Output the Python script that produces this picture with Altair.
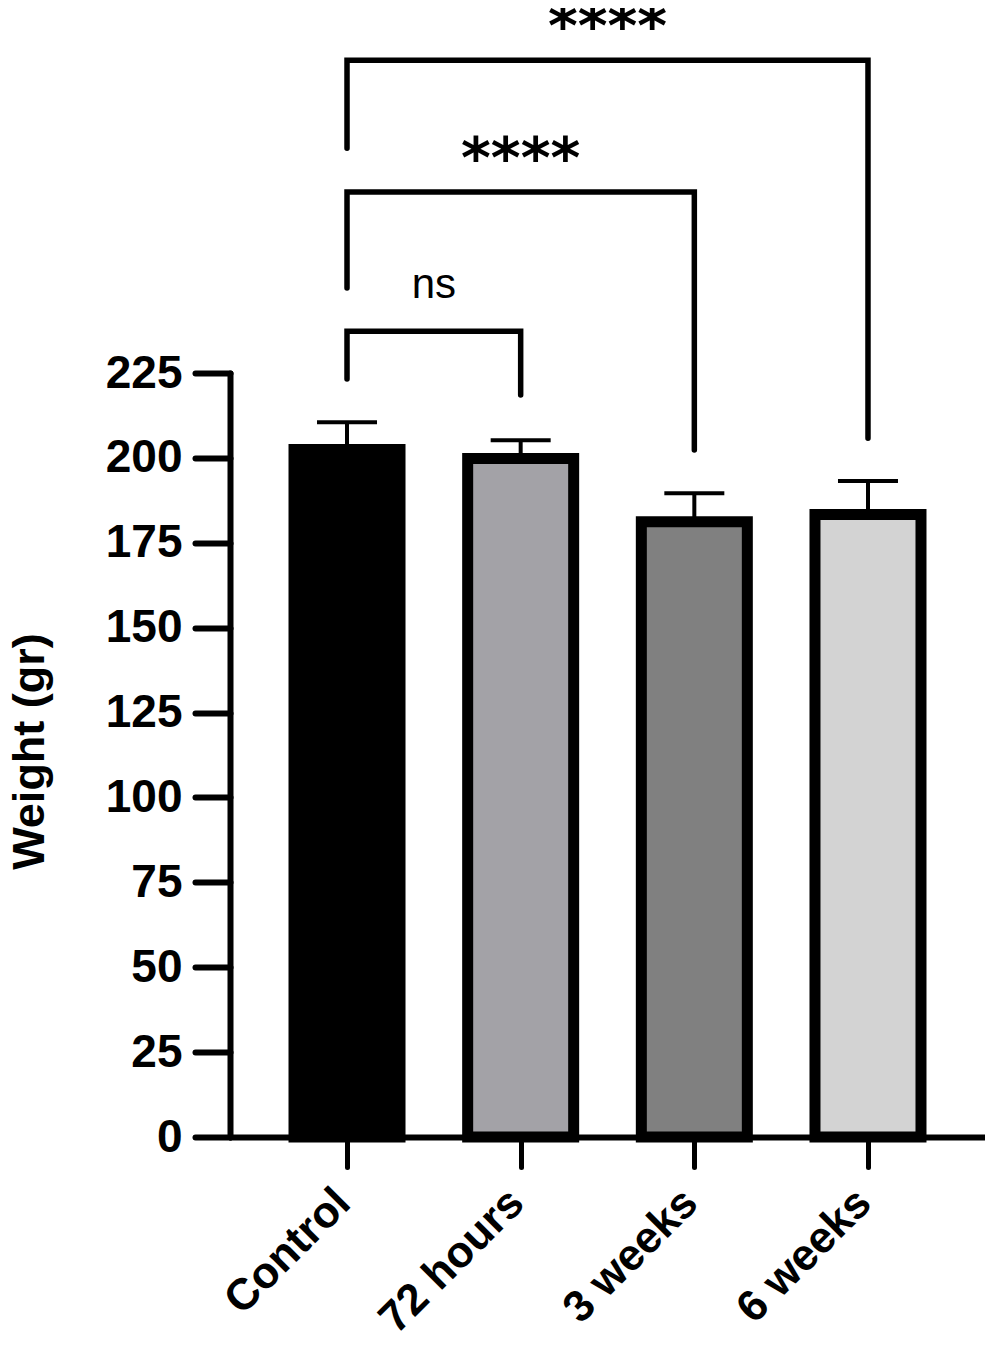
import json
import altair as alt
import pandas as pd

# ---- data ----
categories = ["Control", "72 hours", "3 weeks", "6 weeks"]
positions = [0, 1, 2, 3]
means = [202.5, 199.8, 181.2, 183.3]
uppers = [210.5, 205.2, 189.6, 193.2]

# significance brackets (indices into categories, values in y units)
br_left = [0, 0, 0]
br_right = [1, 2, 3]
br_top = [237.3, 278.3, 317.1]
br_left_end = [223.2, 250.0, 291.2]
br_right_end = [218.5, 202.3, 205.8]
br_label = ["ns", "****", "****"]
br_label_y = [250.9, 290.6, 329.5]

y_ticks = [0, 25, 50, 75, 100, 125, 150, 175, 200, 225]

# ---- styles ----
fills = ["#000000", "#a3a2a7", "#808080", "#d3d3d3"]
FONT = "Liberation Sans"

bars_df = pd.DataFrame({"idx": positions, "cat": categories, "mean": means, "upper": uppers})

rows = []
for i in range(len(br_left)):
    pts = [(br_left[i], br_left_end[i]), (br_left[i], br_top[i]),
           (br_right[i], br_top[i]), (br_right[i], br_right_end[i])]
    for k, (bx, by) in enumerate(pts):
        rows.append({"bid": i, "ord": k, "bx": bx, "by": by})
br_df = pd.DataFrame(rows)

lab_df = pd.DataFrame({
    "tx": [(l + r) / 2 for l, r in zip(br_left, br_right)],
    "ty": br_label_y,
    "label": br_label,
})

label_expr = json.dumps(categories) + "[datum.value]"

xscale = alt.Scale(domain=[-0.645, 3.645], nice=False, zero=False)
yscale = alt.Scale(domain=[0, 225], nice=False, zero=True)

x_axis = alt.Axis(
    values=positions, labelExpr=label_expr, title=None,
    labelAngle=-45, labelAlign="right", labelBaseline="middle",
    labelPadding=29, labelOffset=-4, labelFontSize=44, labelFont=FONT,
    labelFontWeight="bold", labelColor="black", labelFlush=False,
    labelOverlap=False, labelLimit=0,
    tickSize=30, tickWidth=5, tickColor="black", tickCap="round",
    domainWidth=6, domainColor="black", domainCap="round", grid=False,
)
y_axis = alt.Axis(
    values=y_ticks, title="Weight (gr)",
    labelFontSize=46, labelFont=FONT, labelFontWeight="bold", labelColor="black",
    labelPadding=13, labelFlush=False, labelOverlap=False,
    tickSize=35, tickWidth=6, tickColor="black", tickCap="round",
    domainWidth=6, domainColor="black", domainCap="round", grid=False,
    titleFontSize=45, titleFont=FONT, titleFontWeight="bold", titleColor="black",
    titleAngle=-90, titleX=-201, titleY=378, titleBaseline="middle", titleAlign="center",
)

X = lambda f: alt.X(f, scale=xscale, axis=x_axis)
Y = lambda f: alt.Y(f, scale=yscale, axis=y_axis, title="Weight (gr)")

base = alt.Chart(bars_df)

stems = base.mark_rule(color="black", strokeWidth=4).encode(
    x=X("idx:Q"), y=Y("mean:Q"), y2="upper:Q")

bars = base.mark_bar(size=106, stroke="black", strokeWidth=11, strokeJoin="miter").encode(
    x=X("idx:Q"), y=Y("mean:Q"),
    fill=alt.Fill("cat:N", scale=alt.Scale(domain=categories, range=fills), legend=None))

caps = base.mark_tick(orient="horizontal", size=60, thickness=4, color="black", opacity=1).encode(
    x=X("idx:Q"), y=Y("upper:Q"))

brackets = alt.Chart(br_df).mark_line(
    color="black", strokeWidth=5.5, strokeCap="round", strokeJoin="miter", clip=False
).encode(x=X("bx:Q"), y=Y("by:Q"), detail="bid:N", order="ord:Q")

ns_text = alt.Chart(lab_df).transform_filter(alt.datum.label == "ns").mark_text(
    font=FONT, fontSize=42, fontWeight="normal", color="black", baseline="middle",
    align="center", clip=False
).encode(x=X("tx:Q"), y=Y("ty:Q"), text="label:N")

star_text = alt.Chart(lab_df).transform_filter(alt.datum.label != "ns").mark_text(
    font="DejaVu Sans", fontSize=57, fontWeight="bold", color="black", baseline="middle",
    align="center", dy=11, clip=False
).encode(x=X("tx:Q"), y=Y("ty:Q"), text="label:N")

chart = alt.layer(stems, bars, caps, brackets, ns_text, star_text).properties(
    width=755, height=764,
    autosize=alt.AutoSizeParams(type="none"),
    padding={"left": 222, "top": 365, "right": 0, "bottom": 203},
).configure_view(stroke=None)

chart.save("out.html", embed_options={"renderer": "svg", "actions": False})
